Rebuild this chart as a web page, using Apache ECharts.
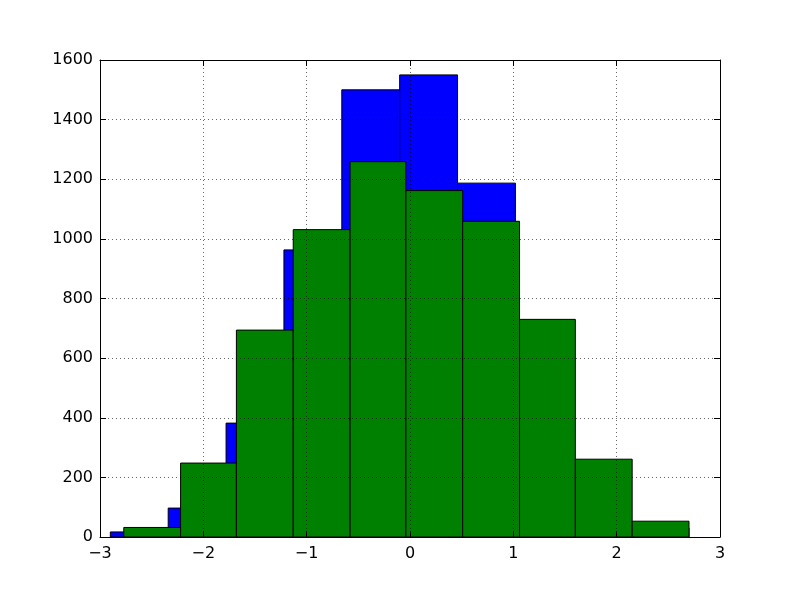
<!DOCTYPE html>
<html>
<head>
<meta charset="utf-8">
<script src="https://cdn.jsdelivr.net/npm/echarts@6/dist/echarts.min.js"></script>
<style>
html,body{margin:0;padding:0;background:#fff;}
#chart{width:800px;height:597px;}
</style>
</head>
<body>
<div id="chart"></div>
<script>
// Histogram 1 (blue): bin edges and counts
const blueEdges = [-2.90, -2.34, -1.78, -1.22, -0.66, -0.10, 0.46, 1.02, 1.58, 2.14, 2.70];
const blueCounts = [17, 97, 382, 963, 1500, 1550, 1187, 620, 200, 30];
// Histogram 2 (green): bin edges and counts
const greenEdges = [-2.77, -2.22, -1.68, -1.13, -0.58, -0.04, 0.51, 1.06, 1.60, 2.15, 2.70];
const greenCounts = [32, 248, 694, 1031, 1259, 1162, 1059, 730, 261, 53];
// Axis ticks
const xTicks = [-3, -2, -1, 0, 1, 2, 3];
const yTicks = [0, 200, 400, 600, 800, 1000, 1200, 1400, 1600];

function toData(edges, counts) {
  return counts.map((c, i) => [edges[i], edges[i + 1], c]);
}
function fmt(v) { return v < 0 ? '\u2212' + Math.abs(v) : String(v); }

function makeRender(color) {
  return function (params, api) {
    const x0 = api.value(0), x1 = api.value(1), h = api.value(2);
    const p0 = api.coord([x0, h]);
    const p1 = api.coord([x1, 0]);
    return {
      type: 'rect',
      shape: { x: p0[0], y: p0[1], width: p1[0] - p0[0], height: p1[1] - p0[1] },
      style: { fill: color, stroke: '#000', lineWidth: 1 }
    };
  };
}

const font = { fontFamily: 'DejaVu Sans', fontSize: 16, color: '#000' };
const xMin = xTicks[0], xMax = xTicks[xTicks.length - 1];
const yMin = yTicks[0], yMax = yTicks[yTicks.length - 1];

const chart = echarts.init(document.getElementById('chart'), null, { renderer: 'canvas' });
chart.setOption({
  animation: false,
  backgroundColor: '#fff',
  grid: { left: 100, right: 80, top: 60, bottom: 60, show: false },
  xAxis: [{
    type: 'value', min: xMin, max: xMax, interval: 1, z: 10,
    axisLine: { show: true, onZero: false, lineStyle: { color: '#000', width: 1 } },
    axisTick: { show: true, inside: true, length: 6, lineStyle: { color: '#000' } },
    axisLabel: Object.assign({ formatter: fmt, margin: 9 }, font),
    splitLine: { show: true, lineStyle: { color: '#000', width: 0.6, type: [1, 3] } }
  }, {
    type: 'value', position: 'top', min: xMin, max: xMax, interval: 1, z: 10,
    axisLine: { show: true, onZero: false, lineStyle: { color: '#000', width: 1 } },
    axisTick: { show: true, inside: true, length: 6, lineStyle: { color: '#000' } },
    axisLabel: { show: false }, splitLine: { show: false }
  }],
  yAxis: [{
    type: 'value', min: yMin, max: yMax, interval: 200, z: 10,
    axisLine: { show: true, onZero: false, lineStyle: { color: '#000', width: 1 } },
    axisTick: { show: true, inside: true, length: 6, lineStyle: { color: '#000' } },
    axisLabel: Object.assign({ formatter: fmt, margin: 7 }, font),
    splitLine: { show: true, lineStyle: { color: '#000', width: 0.6, type: [1, 3] } }
  }, {
    type: 'value', position: 'right', min: yMin, max: yMax, interval: 200, z: 10,
    axisLine: { show: true, onZero: false, lineStyle: { color: '#000', width: 1 } },
    axisTick: { show: true, inside: true, length: 6, lineStyle: { color: '#000' } },
    axisLabel: { show: false }, splitLine: { show: false }
  }],
  series: [{
    type: 'custom', name: 'blue', renderItem: makeRender('#0000ff'),
    data: toData(blueEdges, blueCounts), encode: { x: [0, 1], y: 2 }, z: 2
  }, {
    type: 'custom', name: 'green', renderItem: makeRender('#008000'),
    data: toData(greenEdges, greenCounts), encode: { x: [0, 1], y: 2 }, z: 3
  }]
});
</script>
</body>
</html>
